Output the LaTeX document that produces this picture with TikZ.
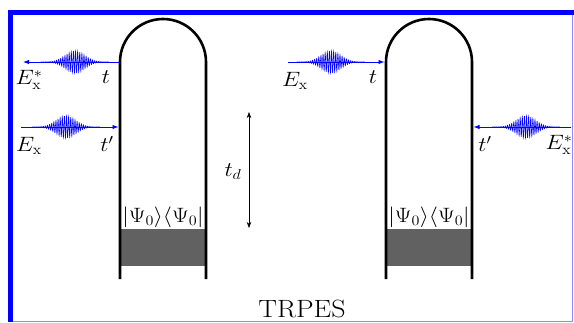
\documentclass[tikz,border=0pt]{standalone}
\usepackage{amsmath}
\usetikzlibrary{arrows.meta,positioning}
\newcommand\wavepacket[2]{\draw[wave] plot[domain=-34:34,samples=409,variable=\u] ({#1+\u},{#2+11*exp(-(\u*\u)/190)*sin(170*\u)});}
\begin{document}
\begin{tikzpicture}[x=1pt,y=1pt,font=\fontsize{20}{23}\selectfont,>=Stealth,
wall/.style={line width=2.6pt},
pulse/.style={blue,line width=0.9pt,-{Latex[length=6pt,width=4.5pt]}},
wave/.style={blue,line width=0.55pt},
lbl/.style={inner sep=0pt,xscale=1.12}]
\useasboundingbox (0,0) rectangle (574,322);
\draw[blue!45,line width=1pt] (10.5,1) -- (572.7,1) -- (572.7,309.5);
\draw[blue,line width=5pt] (10.5,0) -- (10.5,309.5) -- (574,309.5);
\foreach \cx in {163,429} {
  \fill[black!62] (\cx-43,56) rectangle (\cx+43,93);
  \draw[wall] (\cx-43,43) -- (\cx-43,260) arc[start angle=180,end angle=0,radius=43] -- (\cx+43,43);
  \node[lbl] at (\cx,105) {$|\Psi_0\rangle\langle\Psi_0|$};
}
\coordinate (Lt) at (120,260);
\coordinate (Ltp) at (120,195);
\coordinate (Rt) at (386,260);
\coordinate (Rtp) at (472,195);
\coordinate (outL) at (23,260);
\coordinate (inL) at (21,195);
\coordinate (inR) at (288,260);
\coordinate (outR) at (571,195);
\wavepacket{75}{260}
\wavepacket{66}{195}
\wavepacket{331}{260}
\wavepacket{526}{195}
\draw[pulse] (Lt) -- (outL);
\draw[pulse,shorten >=1.5pt] (inL) -- (Ltp);
\draw[pulse,shorten >=1.5pt] (inR) -- (Rt);
\draw[pulse,shorten >=1.5pt] (outR) -- (Rtp);
\node[lbl] (ExsL) at (29,242) {$E_{\mathrm{x}}^*$};
\node[lbl] (tL) at (106,245) {$t$};
\node[lbl] (ExL) at (29,176) {$E_{\mathrm{x}}$};
\node[lbl] (tpL) at (107,178) {$t'$};
\node[lbl] (ExR) at (295,241) {$E_{\mathrm{x}}$};
\node[lbl] (tR) at (373,245) {$t$};
\node[lbl] (tpR) at (485,178) {$t'$};
\node[lbl] (ExsR) at (559,177) {$E_{\mathrm{x}}^*$};
\coordinate (tdtop) at (249,210);
\coordinate (tdbot) at (249,94);
\draw[<->,line width=0.7pt] (tdtop) -- (tdbot);
\node[lbl] (td) at (233,150) {$t_d$};
\node[lbl,anchor=base,font=\fontsize{25}{28}\selectfont] (title) at (302,5) {TRPES};
\end{tikzpicture}
\end{document}
